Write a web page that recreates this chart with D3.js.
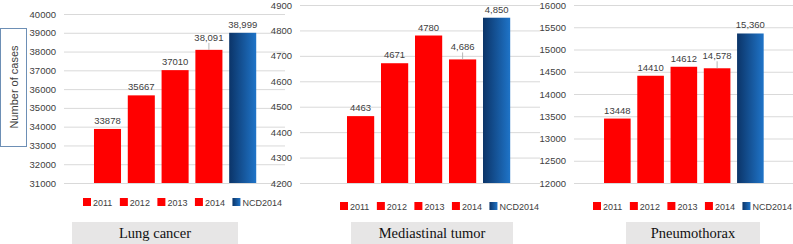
<!DOCTYPE html>
<html>
<head>
<meta charset="utf-8">
<script src="https://cdn.jsdelivr.net/npm/d3@7"></script>
<style>
  body { margin: 0; background: #fff; }
  svg { display: block; }
</style>
</head>
<body>
<svg id="chart" width="793" height="244"></svg>
<script>
// values
const categories = ["2011", "2012", "2013", "2014", "NCD2014"];
const lungCancer = [33878, 35667, 37010, 38091, 38999];
const mediastinalTumor = [4463, 4671, 4780, 4686, 4850];
const pneumothorax = [13448, 14410, 14612, 14578, 15360];
const useComma = [false, false, false, true, true];
const lungTicks = [31000, 32000, 33000, 34000, 35000, 36000, 37000, 38000, 39000, 40000];
const mediastinalTicks = [4200, 4300, 4400, 4500, 4600, 4700, 4800, 4900];
const pneumoTicks = [12000, 12500, 13000, 13500, 14000, 14500, 15000, 15500, 16000];
const titles = ["Lung cancer", "Mediastinal tumor", "Pneumothorax"];

// layout of each small chart
const panels = [
    { values: lungCancer, ticks: lungTicks, title: titles[0],
      axisX: 64, gridEnd: 285, top: 14, bottom: 183, bars: [90.6, 259.6],
      legendX: 83, legendY: 202, box: [72, 238] },
    { values: mediastinalTumor, ticks: mediastinalTicks, title: titles[1],
      axisX: 300, gridEnd: 540, top: 5, bottom: 183, bars: [343.6, 513.6],
      legendX: 340, legendY: 206, box: [351, 513] },
    { values: pneumothorax, ticks: pneumoTicks, title: titles[2],
      axisX: 574, gridEnd: 793, top: 5, bottom: 183, bars: [600.7, 767],
      legendX: 593, legendY: 206, box: [626, 760] }
];

const textColor = "#404040";
const red = "#ff0000";
const svg = d3.select("#chart");

// gradient for the NCD bar
const grad = svg.append("defs").append("linearGradient")
    .attr("id", "ncd").attr("x1", "0%").attr("x2", "100%").attr("y1", "0%").attr("y2", "0%");
grad.append("stop").attr("offset", "0%").attr("stop-color", "#0b3468");
grad.append("stop").attr("offset", "100%").attr("stop-color", "#1f74c8");

function barFill(i) { return i === 4 ? "url(#ncd)" : red; }

panels.forEach(function(p) {
    var y = d3.scaleLinear()
        .domain([p.ticks[0], p.ticks[p.ticks.length - 1]])
        .range([p.bottom, p.top]);
    var x = d3.scaleBand()
        .domain(categories)
        .range(p.bars)
        .paddingInner(0.2)
        .paddingOuter(0.1);

    // axis + gridlines
    var axis = svg.append("g")
        .attr("transform", "translate(" + p.axisX + ",0)")
        .call(d3.axisLeft(y)
            .tickValues(p.ticks)
            .tickFormat(d3.format("d"))
            .tickSize(-(p.gridEnd - p.axisX))
            .tickPadding(8));
    axis.select(".domain").remove();
    axis.selectAll(".tick line").attr("stroke", "#d9d9d9");
    axis.selectAll(".tick text")
        .attr("fill", textColor)
        .style("font-family", "Liberation Sans, Arial, sans-serif")
        .style("font-size", "9.5px");

    // bars
    svg.append("g").selectAll("rect")
        .data(p.values)
        .enter()
        .append("rect")
        .attr("x", function(d, i) { return x(categories[i]); })
        .attr("y", function(d) { return y(d); })
        .attr("width", x.bandwidth())
        .attr("height", function(d) { return p.bottom - y(d); })
        .attr("fill", function(d, i) { return barFill(i); });

    // value labels, 2014 one sits a bit higher with a leader line
    var labels = svg.append("g");
    p.values.forEach(function(d, i) {
        var cx = x(categories[i]) + x.bandwidth() / 2;
        var lift = i === 3 ? 9 : 5;
        labels.append("text")
            .attr("x", cx)
            .attr("y", y(d) - lift)
            .attr("text-anchor", "middle")
            .attr("fill", textColor)
            .style("font-family", "Liberation Sans, Arial, sans-serif")
            .style("font-size", "9.5px")
            .text(useComma[i] ? d3.format(",")(d) : String(d));
        if (i === 3) {
            labels.append("line")
                .attr("x1", cx).attr("x2", cx)
                .attr("y1", y(d) - 7).attr("y2", y(d))
                .attr("stroke", "#a6a6a6").attr("stroke-width", 0.8);
        }
    });

    // legend
    var lx = p.legendX;
    var legend = svg.append("g");
    categories.forEach(function(c, i) {
        legend.append("rect")
            .attr("x", lx).attr("y", p.legendY - 4)
            .attr("width", 8).attr("height", 8)
            .attr("fill", barFill(i));
        var t = legend.append("text")
            .attr("x", lx + 10).attr("y", p.legendY + 3.5)
            .attr("fill", textColor)
            .style("font-family", "Liberation Sans, Arial, sans-serif")
            .style("font-size", "9px")
            .text(c);
        lx += 10 + t.node().getComputedTextLength() + 7.5;
    });

    // title box under the chart
    svg.append("rect")
        .attr("x", p.box[0]).attr("y", 222)
        .attr("width", p.box[1] - p.box[0]).attr("height", 22)
        .attr("fill", "#e7e6e6");
    svg.append("text")
        .attr("x", (p.box[0] + p.box[1]) / 2).attr("y", 238)
        .attr("text-anchor", "middle")
        .attr("fill", "#111")
        .style("font-family", "Liberation Serif, Times New Roman, serif")
        .style("font-size", "14.5px")
        .text(p.title);
});

// y axis title in its box
svg.append("rect")
    .attr("x", 0.5).attr("y", 28.5)
    .attr("width", 26).attr("height", 118)
    .attr("fill", "#fff").attr("stroke", "#6d8fb5").attr("stroke-width", 1);
svg.append("text")
    .attr("transform", "translate(18,87) rotate(-90)")
    .attr("text-anchor", "middle")
    .attr("fill", textColor)
    .style("font-family", "Liberation Sans, Arial, sans-serif")
    .style("font-size", "11px")
    .text("Number of cases");
</script>
</body>
</html>
